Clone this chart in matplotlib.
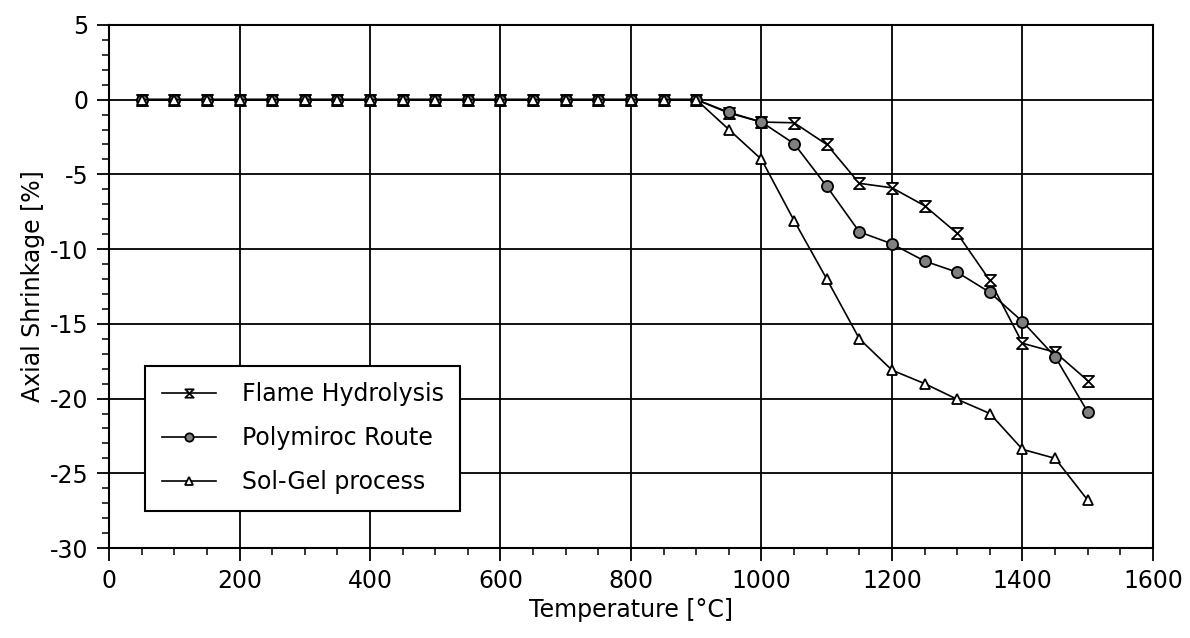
import matplotlib.pyplot as plt
from matplotlib.path import Path

temperature = [50, 100, 150, 200, 250, 300, 350, 400, 450, 500, 550, 600, 650, 700, 750,
               800, 850, 900, 950, 1000, 1050, 1100, 1150, 1200, 1250, 1300, 1350, 1400,
               1450, 1500]
flame = [0] * 18 + [-0.9, -1.5, -1.55, -3.0, -5.6, -5.9, -7.1, -8.95, -12.1, -16.3,
                    -16.9, -18.8]
polymeric = [0] * 18 + [-0.85, -1.5, -2.95, -5.8, -8.85, -9.65, -10.8, -11.55, -12.9,
                        -14.85, -17.2, -20.9]
solgel = [0] * 18 + [-2.0, -4.0, -8.1, -12.0, -16.0, -18.1, -19.0, -20.05, -21.0,
                     -23.4, -24.0, -26.8]

series = [
    ("Flame Hydrolysis", flame),
    ("Polymiroc Route", polymeric),
    ("Sol-Gel process", solgel),
]

hourglass = Path([(-1, 1), (1, 1), (-1, -1), (1, -1), (-1, 1)],
                 [Path.MOVETO, Path.LINETO, Path.LINETO, Path.LINETO, Path.CLOSEPOLY])
marker_styles = [
    dict(marker=hourglass, markersize=8, markerfacecolor="white", markeredgewidth=1.3),
    dict(marker="o", markersize=8, markerfacecolor="#808080", markeredgewidth=1.3),
    dict(marker="^", markersize=7, markerfacecolor="white", markeredgewidth=1.3),
]

plt.rcParams["font.family"] = "DejaVu Sans"
plt.rcParams["axes.unicode_minus"] = False

fig = plt.figure(figsize=(11.9, 6.38), dpi=100)
ax = fig.add_axes([0.0916, 0.141, 0.8773, 0.820])

for (label, values), style in zip(series, marker_styles):
    ax.plot(temperature, values, color="black", linewidth=1.2,
            markeredgecolor="black", label=label, **style)

ax.set_xlim(0, 1600)
ax.set_ylim(-30, 5)
ax.set_xticks(range(0, 1601, 200))
ax.set_xticks(range(0, 1601, 50), minor=True)
ax.set_yticks(range(-30, 6, 5))
ax.set_yticks(range(-30, 6, 1), minor=True)
ax.grid(True, which="major", color="black", linewidth=1.3)
ax.set_axisbelow(True)

for spine in ax.spines.values():
    spine.set_linewidth(1.5)
ax.tick_params(which="major", direction="out", length=9, width=1.3, labelsize=17,
               pad=6)
ax.tick_params(which="minor", direction="out", length=5, width=1.1)

ax.set_xlabel("Temperature [°C]", fontsize=17, labelpad=4)
ax.set_ylabel("Axial Shrinkage [%]", fontsize=17, labelpad=3)

leg = ax.legend(loc="lower left", bbox_to_anchor=(0.0345, 0.071), fontsize=17,
                frameon=True, fancybox=False, edgecolor="black", framealpha=1,
                handlelength=2.3, labelspacing=0.85, borderpad=0.7,
                handletextpad=1.1, borderaxespad=0, markerscale=0.75)
leg.get_frame().set_linewidth(1.5)

fig.savefig("out.png", dpi=100)
